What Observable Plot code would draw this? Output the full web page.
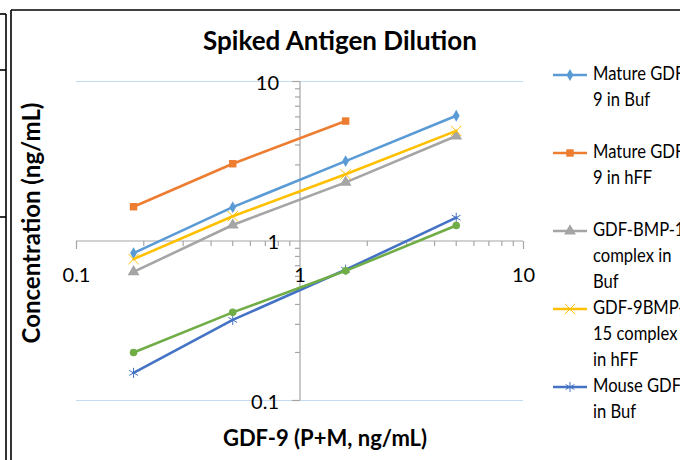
<!DOCTYPE html>
<html><head><meta charset="utf-8">
<script src="https://cdn.jsdelivr.net/npm/d3@7"></script>
<script src="https://cdn.jsdelivr.net/npm/@observablehq/plot@0.6"></script>
<style>
body{margin:0;background:#fff;}
#wrap{position:relative;width:680px;height:460px;overflow:hidden;background:#fff;font-family:Lato,"Open Sans",sans-serif;}
#wrap svg{position:absolute;left:0;top:0;}
</style></head><body><div id="wrap"></div>
<script>
// ---- data ----
const xValues = [0.18, 0.5, 1.6, 5];
const seriesNames = ["Mature GDF-9 in Buf", "Mature GDF-9 in hFF", "GDF-BMP-15 complex in Buf", "GDF-9BMP-15 complex in hFF", "Mouse GDF-9 in Buf", "Mouse GDF-9 in hFF"];
const matureBuf  = [0.84, 1.63, 3.17, 6.1];
const matureHFF  = [1.64, 3.05, 5.65];
const complexBuf = [0.64, 1.26, 2.33, 4.55];
const complexHFF = [0.77, 1.43, 2.62, 4.9];
const mouseBuf   = [0.149, 0.32, 0.66, 1.4];
const mouseHFF   = [0.2, 0.357, 0.65, 1.25];
const seriesColors  = ["#5B9BD5", "#ED7D31", "#A5A5A5", "#FFC000", "#4472C4", "#70AD47"];
const seriesSymbols = ["diamond", "square", "triangle", "times", "asterisk", "circle"];
const legendLines = [["Mature GDF-", "9 in Buf"], ["Mature GDF-", "9 in hFF"], ["GDF-BMP-15", "complex in", "Buf"], ["GDF-9BMP-", "15 complex", "in hFF"], ["Mouse GDF-9", "in Buf"]];
const xTickLabels = [0.1, 1, 10];
const yTickLabels = [0.1, 1, 10];
const titleText = "Spiked Antigen Dilution";
const xTitle = "GDF-9 (P+M, ng/mL)";
const yTitle = "Concentration (ng/mL)";

const seriesValues = [matureBuf, matureHFF, complexBuf, complexHFF, mouseBuf, mouseHFF];
const rows = seriesValues.flatMap((vals, s) => vals.map((v, i) => ({series: seriesNames[s], s, x: xValues[i], y: v})));
const minorTicks = [0.1, 1].flatMap(d => d3.range(2, 10).map(k => +(k * d).toFixed(3)));
const majorTicks = [0.1, 10];

const font = "Lato, 'Open Sans', sans-serif";
const axisGray = "#a6a6a6";
const gridBlue = "#c5d9f1";
const symR = [3.6, 4.2, 4.4, 4.8, 4.8, 3.8];

const tickDown = (len) => ({draw(ctx) { ctx.moveTo(0, 0); ctx.lineTo(0, len); }});
const tickLeft = (len) => ({draw(ctx) { ctx.moveTo(0, 0); ctx.lineTo(-len, 0); }});

const marks = [
  Plot.ruleY([0.1, 10], {stroke: gridBlue, strokeWidth: 1}),
  Plot.ruleY([1], {stroke: axisGray, strokeWidth: 1.2}),
  Plot.ruleX([1], {stroke: axisGray, strokeWidth: 1.2}),
  Plot.dot(minorTicks, {x: d => d, y: () => 1, symbol: tickDown(5), stroke: axisGray, fill: "none", strokeWidth: 1.2}),
  Plot.dot(majorTicks, {x: d => d, y: () => 1, symbol: tickDown(8), stroke: axisGray, fill: "none", strokeWidth: 1.2}),
  Plot.dot(minorTicks, {x: () => 1, y: d => d, symbol: tickLeft(5), stroke: axisGray, fill: "none", strokeWidth: 1.2}),
  Plot.dot(majorTicks, {x: () => 1, y: d => d, symbol: tickLeft(8), stroke: axisGray, fill: "none", strokeWidth: 1.2}),
  Plot.text(xTickLabels, {x: d => d, y: () => 1, dy: 35, text: d => String(d), fontSize: 20, fill: "#000"}),
  Plot.text(yTickLabels, {x: () => 1, y: d => d, dx: -21, dy: 2, textAnchor: "end", text: d => String(d), fontSize: 20, fill: "#000"})
];
seriesNames.forEach((name, s) => {
  const data = rows.filter(r => r.s === s);
  const hollow = seriesSymbols[s] === "times" || seriesSymbols[s] === "asterisk";
  marks.push(Plot.line(data, {x: "x", y: "y", stroke: seriesColors[s], strokeWidth: 2.6}));
  marks.push(Plot.dot(data, {x: "x", y: "y", symbol: seriesSymbols[s], r: symR[s],
    fill: hollow ? "none" : seriesColors[s], stroke: hollow ? seriesColors[s] : "none", strokeWidth: 1}));
});

const chart = Plot.plot({
  width: 680, height: 460,
  marginLeft: 76, marginRight: 157, marginTop: 81, marginBottom: 60,
  x: {type: "log", domain: [0.1, 10], axis: null},
  y: {type: "log", domain: [0.1, 10], axis: null},
  style: {fontFamily: font, background: "transparent"},
  marks
});
const wrap = document.getElementById("wrap");
wrap.appendChild(chart);

// ---- overlay: title, axis titles, legend, frame ----
const ov = d3.select(wrap).append("svg").attr("width", 680).attr("height", 460)
  .style("font-family", font).style("pointer-events", "none");

const frame = [[11, 10, 680, 10], [11, 10, 11, 460], [6, 14, 6, 460], [0, 14, 6, 14], [0, 70, 6, 70], [0, 217, 6, 217]];
ov.selectAll("line.f").data(frame).join("line").attr("class", "f")
  .attr("x1", d => d[0]).attr("y1", d => d[1]).attr("x2", d => d[2]).attr("y2", d => d[3])
  .attr("stroke", "#000").attr("stroke-width", 1.6);

ov.append("text").attr("x", 340).attr("y", 43).attr("text-anchor", "middle").attr("dominant-baseline", "middle")
  .attr("font-size", 26).attr("font-weight", "bold").text(titleText);
ov.append("text").attr("x", 325).attr("y", 440).attr("text-anchor", "middle").attr("dominant-baseline", "middle")
  .attr("font-size", 22).attr("font-weight", "bold").text(xTitle);
ov.append("text").attr("transform", "translate(34,223) rotate(-90)").attr("text-anchor", "middle").attr("dominant-baseline", "middle")
  .attr("font-size", 24).attr("font-weight", "bold").text(yTitle);

const d3Sym = {diamond: d3.symbolDiamond, square: d3.symbolSquare, triangle: d3.symbolTriangle, times: d3.symbolTimes, asterisk: d3.symbolAsterisk, circle: d3.symbolCircle};
legendLines.forEach((lines, s) => {
  const cy = 75 + s * 78;
  const g = ov.append("g");
  g.append("line").attr("x1", 553).attr("x2", 587).attr("y1", cy).attr("y2", cy)
    .attr("stroke", seriesColors[s]).attr("stroke-width", 2.6);
  const hollow = seriesSymbols[s] === "times" || seriesSymbols[s] === "asterisk";
  g.append("path").attr("transform", `translate(570,${cy})`)
    .attr("d", d3.symbol(d3Sym[seriesSymbols[s]], symR[s] * symR[s] * Math.PI)())
    .attr("fill", hollow ? "none" : seriesColors[s]).attr("stroke", hollow ? seriesColors[s] : "none");
  lines.forEach((t, j) => {
    g.append("text").attr("transform", `translate(593,${cy + j * 25.8}) scale(0.83,1)`)
      .attr("dominant-baseline", "middle").attr("font-size", 20).text(t);
  });
});
</script></body></html>
